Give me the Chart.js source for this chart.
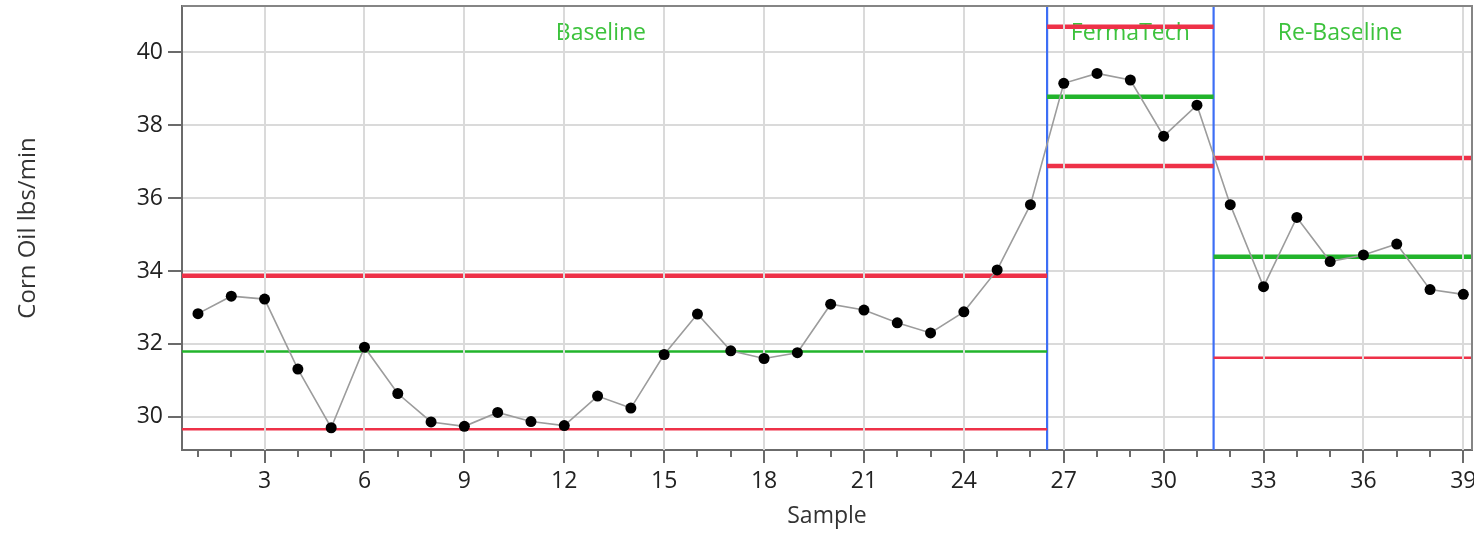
<!DOCTYPE html>
<html>
<head>
<meta charset="utf-8">
<script src="https://cdn.jsdelivr.net/npm/chart.js@4.4.1/dist/chart.umd.min.js"></script>
<style>
  html, body { margin: 0; padding: 0; background: #ffffff; }
  #c { display: block; }
</style>
</head>
<body>
<canvas id="c" width="1474" height="533"></canvas>
<script>
// Corn oil output per sample, split into three process phases.
const samples = [1, 2, 3, 4, 5, 6, 7, 8, 9, 10, 11, 12, 13, 14, 15, 16, 17, 18, 19, 20,
                 21, 22, 23, 24, 25, 26, 27, 28, 29, 30, 31, 32, 33, 34, 35, 36, 37, 38, 39];
const cornOil = [32.83, 33.31, 33.23, 31.31, 29.70, 31.91, 30.64, 29.86, 29.74, 30.12,
                 29.87, 29.76, 30.57, 30.24, 31.71, 32.82, 31.81, 31.60, 31.76, 33.09,
                 32.93, 32.58, 32.30, 32.88, 34.03, 35.82, 39.15, 39.42, 39.24, 37.70,
                 38.55, 35.82, 33.57, 35.47, 34.26, 34.44, 34.74, 33.49, 33.36];

const phaseNames = ['Baseline', 'FermaTech', 'Re-Baseline'];
const phaseStart = [0.52, 26.5, 31.5];
const phaseEnd = [26.5, 31.5, 39.26];
const centerLine = [31.79, 38.78, 34.39];
const upperLimit = [33.87, 40.70, 37.10];
const lowerLimit = [29.66, 36.88, 31.62];
const phaseLabelAt = [13.1, 29.0, 35.3];

const xTicks = [3, 6, 9, 12, 15, 18, 21, 24, 27, 30, 33, 36, 39];
const yTicks = [30, 32, 34, 36, 38, 40];
const xRange = [0.52, 39.26];
const yRange = [29.09, 41.27];

// Styling
const FONT = "'Open Sans', 'Noto Sans', sans-serif";
const RED = '#ee3148';
const GREEN = '#22b42b';
const BLUE = '#3d6ef5';
const GRID = '#dadada';
const AXIS = '#6b6b6b';
const centerWidth = [2.5, 4.5, 4.5];
const upperWidth = [4.5, 4.5, 4.5];
const lowerWidth = [2.5, 4.5, 2.5];

const datasets = [];

// Measurements: grey connecting line with black dots (drawn on top)
datasets.push({
  label: 'Corn Oil lbs/min',
  data: samples.map((s, i) => ({ x: s, y: cornOil[i] })),
  borderColor: '#9c9c9c',
  borderWidth: 1.6,
  pointRadius: 5.5,
  pointBackgroundColor: '#000000',
  pointBorderColor: '#000000',
  pointBorderWidth: 0,
  tension: 0,
  order: 0
});

// Control limits and centre line per phase
phaseNames.forEach((name, i) => {
  const seg = (v) => [{ x: phaseStart[i], y: v }, { x: phaseEnd[i], y: v }];
  datasets.push({ label: name + ' UCL', data: seg(upperLimit[i]), borderColor: RED,
    borderWidth: upperWidth[i], pointRadius: 0, order: 1 });
  datasets.push({ label: name + ' CL', data: seg(centerLine[i]), borderColor: GREEN,
    borderWidth: centerWidth[i], pointRadius: 0, order: 1 });
  datasets.push({ label: name + ' LCL', data: seg(lowerLimit[i]), borderColor: RED,
    borderWidth: lowerWidth[i], pointRadius: 0, order: 1 });
});

// Phase boundaries
phaseStart.slice(1).forEach((b) => {
  datasets.push({ label: 'phase ' + b, data: [{ x: b, y: yRange[0] }, { x: b, y: yRange[1] }],
    borderColor: BLUE, borderWidth: 2.2, pointRadius: 0, order: 2 });
});

// Redraw vertical grid over the limit lines, beneath the measurement dots
const gridOverLimits = {
  id: 'gridOverLimits',
  beforeDatasetDraw(chart, args) {
    if (args.index !== 0) return;
    const { ctx, chartArea: a, scales: { x } } = chart;
    ctx.save();
    ctx.strokeStyle = GRID;
    ctx.lineWidth = 2;
    xTicks.forEach((t) => {
      const px = Math.round(x.getPixelForValue(t));
      ctx.beginPath();
      ctx.moveTo(px, a.top);
      ctx.lineTo(px, a.bottom);
      ctx.stroke();
    });
    ctx.restore();
  }
};

// Phase names along the top of the plot
const phaseLabels = {
  id: 'phaseLabels',
  beforeDatasetsDraw(chart) {
    const { ctx, chartArea: a, scales: { x } } = chart;
    ctx.save();
    ctx.font = '23px ' + FONT;
    ctx.fillStyle = '#3cc23c';
    ctx.textAlign = 'center';
    ctx.textBaseline = 'alphabetic';
    phaseNames.forEach((n, i) => {
      ctx.fillText(n, x.getPixelForValue(phaseLabelAt[i]), a.top + 34);
    });
    ctx.restore();
  }
};

// Frame, and short minor ticks on every sample
const frameAndMinor = {
  id: 'frameAndMinor',
  afterDraw(chart) {
    const { ctx, chartArea: a, scales: { x } } = chart;
    ctx.save();
    ctx.strokeStyle = '#858585';
    ctx.lineWidth = 2;
    ctx.beginPath();
    ctx.moveTo(a.left, a.top);
    ctx.lineTo(a.right, a.top);
    ctx.lineTo(a.right, a.bottom);
    ctx.stroke();
    ctx.strokeStyle = AXIS;
    samples.forEach((s) => {
      if (xTicks.includes(s)) return;
      const px = Math.round(x.getPixelForValue(s));
      ctx.beginPath();
      ctx.moveTo(px, a.bottom);
      ctx.lineTo(px, a.bottom + 7);
      ctx.stroke();
    });
    ctx.restore();
  }
};

const noEdgePadding = (s) => {
  s.paddingTop = 0; s.paddingBottom = 0; s.paddingLeft = 0; s.paddingRight = 0;
};

new Chart(document.getElementById('c'), {
  type: 'line',
  data: { datasets },
  options: {
    responsive: false,
    animation: false,
    devicePixelRatio: 1,
    layout: { autoPadding: false, padding: { left: 0, right: 2, top: 6, bottom: 0 } },
    plugins: { legend: { display: false }, tooltip: { enabled: false } },
    scales: {
      x: {
        type: 'linear',
        min: xRange[0],
        max: xRange[1],
        afterBuildTicks: (s) => { s.ticks = xTicks.map((v) => ({ value: v })); },
        afterFit: (s) => { s.height = 83; noEdgePadding(s); },
        ticks: { font: { family: FONT, size: 23 }, color: '#222222', padding: 5,
                 maxRotation: 0, autoSkip: false },
        grid: { color: GRID, lineWidth: 2, tickLength: 13, tickColor: AXIS, tickWidth: 2 },
        border: { color: AXIS, width: 2 },
        title: { display: true, text: 'Sample', color: '#333333',
                 font: { family: FONT, size: 23 }, padding: { top: 0, bottom: 3 } }
      },
      y: {
        type: 'linear',
        min: yRange[0],
        max: yRange[1],
        afterBuildTicks: (s) => { s.ticks = yTicks.map((v) => ({ value: v })); },
        afterFit: (s) => { s.width = 182; noEdgePadding(s); },
        ticks: { font: { family: FONT, size: 23 }, color: '#222222', padding: 5 },
        grid: { color: GRID, lineWidth: 2, tickLength: 14, tickColor: AXIS, tickWidth: 2 },
        border: { color: AXIS, width: 2 },
        title: { display: true, text: 'Corn Oil lbs/min', color: '#333333',
                 font: { family: FONT, size: 24 }, padding: { top: 14, bottom: 0 } }
      }
    }
  },
  plugins: [gridOverLimits, phaseLabels, frameAndMinor]
});
</script>
</body>
</html>
